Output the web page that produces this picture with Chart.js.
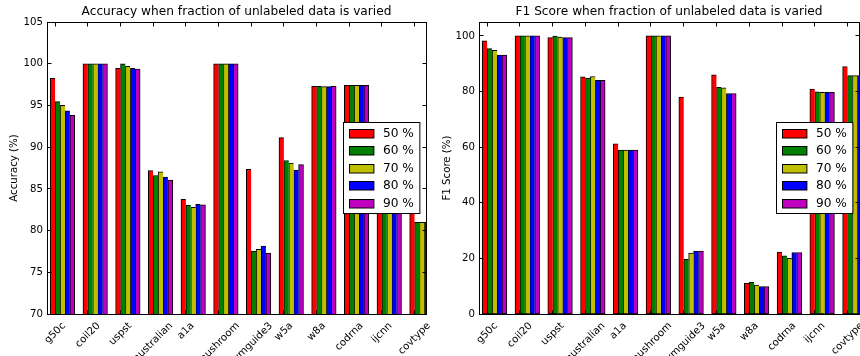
<!DOCTYPE html>
<html>
<head>
<meta charset="utf-8">
<script src="https://cdn.jsdelivr.net/npm/chart.js@4.4.1/dist/chart.umd.min.js"></script>
<style>
    html, body { margin: 0; padding: 0; background: #fff; }
    #wrap { position: relative; width: 860px; height: 356px; overflow: hidden; }
    .panel { position: absolute; top: 0; width: 430px; height: 356px; }
</style>
</head>
<body>
<div id="wrap">
    <div class="panel" style="left:0"><canvas id="accChart" width="430" height="356"></canvas></div>
    <div class="panel" style="left:430px"><canvas id="f1Chart" width="430" height="356"></canvas></div>
</div>
<script>
// Data sets on the x axis
const datasetNames = ['g50c', 'coil20', 'uspst', 'australian', 'a1a', 'mushroom',
    'svmguide3', 'w5a', 'w8a', 'codrna', 'ijcnn', 'covtype'];
const seriesLabels = ['50 %', '60 %', '70 %', '80 %', '90 %'];
const seriesColors = ['#ff0000', '#008000', '#bfbf00', '#0000ff', '#bf00bf'];

// Accuracy (%) per fraction of unlabeled data
const acc50 = [98.25, 100, 99.45, 87.2, 83.75, 100, 87.35, 91.15, 97.3, 97.4, 91.0, 84.5];
const acc60 = [95.45, 100, 100, 86.6, 83.05, 100, 77.55, 88.4, 97.3, 97.4, 90.3, 81.0];
const acc70 = [95.0, 100, 99.7, 87.05, 82.8, 100, 77.75, 88.1, 97.25, 97.4, 90.2, 81.0];
const acc80 = [94.35, 100, 99.45, 86.4, 83.15, 100, 78.15, 87.25, 97.25, 97.4, 90.3, 81.0];
const acc90 = [93.8, 100, 99.35, 86.05, 83.1, 100, 77.3, 87.9, 97.3, 97.4, 90.3, 81.0];

// F1 score (%) per fraction of unlabeled data
const f1_50 = [98.2, 100, 99.4, 85.3, 61.2, 100, 78.0, 86.0, 11.1, 22.3, 80.9, 89.0];
const f1_60 = [95.45, 100, 99.9, 84.8, 58.9, 100, 19.7, 81.5, 11.35, 20.9, 79.9, 85.7];
const f1_70 = [94.85, 100, 99.6, 85.4, 58.9, 100, 21.9, 81.3, 10.4, 20.0, 79.7, 85.7];
const f1_80 = [93.1, 100, 99.4, 84.0, 58.9, 100, 22.6, 79.3, 9.9, 22.1, 79.7, 85.7];
const f1_90 = [93.1, 100, 99.4, 84.0, 58.9, 100, 22.6, 79.3, 9.9, 22.1, 79.7, 85.7];

// Tick labels
const accTicks = [70, 75, 80, 85, 90, 95, 100, 105];
const f1Ticks = [0, 20, 40, 60, 80, 100];

const BAR_W = 0.15;   // bar width in x units, like matplotlib's width=0.15
const FONT = "'DejaVu Sans', sans-serif";
const TICK_SIZE = 10.2;
const BIG_SIZE = 12.2;

function barDatasets(series) {
    return series.map((vals, k) => ({
        label: seriesLabels[k],
        data: vals.map((v, i) => ({ x: i + k * BAR_W + BAR_W / 2, y: v })),
        backgroundColor: seriesColors[k],
        borderColor: '#000',
        borderWidth: k === series.length - 1 ? 1 : { top: 1, left: 1, bottom: 1, right: 0 },
        borderSkipped: false,
        grouped: false,
        barPercentage: 1,
        categoryPercentage: 1
    }));
}

// matplotlib-like frame, inward ticks, rotated labels and legend
const mplPlugin = {
    id: 'mplLook',
    afterDatasetsDraw(chart) {
        const { ctx, chartArea: a, scales: { x, y } } = chart;
        const L = Math.floor(a.left) + 0.5, R = Math.floor(a.right) + 0.5;
        const T = Math.floor(a.top) + 0.5, B = Math.floor(a.bottom) + 0.5;
        ctx.save();
        ctx.strokeStyle = '#000';
        ctx.lineWidth = 1;
        ctx.strokeRect(L, T, R - L, B - T);
        ctx.beginPath();
        y.ticks.forEach(t => {
            const py = Math.floor(y.getPixelForValue(t.value)) + 0.5;
            ctx.moveTo(L, py); ctx.lineTo(L + 4, py);
            ctx.moveTo(R, py); ctx.lineTo(R - 4, py);
        });
        x.ticks.forEach(t => {
            const px = Math.floor(x.getPixelForValue(t.value)) + 0.5;
            ctx.moveTo(px, T); ctx.lineTo(px, T + 4);
            ctx.moveTo(px, B); ctx.lineTo(px, B - 4);
        });
        ctx.stroke();

        // x labels rotated 45 deg, box centered on the tick
        ctx.fillStyle = '#000';
        ctx.font = `${TICK_SIZE}px ${FONT}`;
        ctx.textAlign = 'center';
        ctx.textBaseline = 'middle';
        x.ticks.forEach((t, i) => {
            const label = datasetNames[i];
            const w = ctx.measureText(label).width;
            const half = (w + TICK_SIZE * 1.17) * Math.SQRT1_2 / 2;
            ctx.save();
            ctx.translate(x.getPixelForValue(t.value), a.bottom + 6 + half);
            ctx.rotate(-Math.PI / 4);
            ctx.fillText(label, 0, 0);
            ctx.restore();
        });
        ctx.restore();
    },
    afterDraw(chart) {
        const { ctx, chartArea: a } = chart;
        const sets = chart.data.datasets;
        ctx.save();
        ctx.font = `${BIG_SIZE}px ${FONT}`;
        const tw = Math.max(...sets.map(d => ctx.measureText(d.label).width));
        const handleW = 24.4, handleH = 8.5, rowH = 17.5;
        const padL = 5, gap = 10, padR = 6, padV = 10.5;
        const w = padL + handleW + gap + tw + padR;
        const h = rowH * (sets.length - 1) + 2 * padV;
        const right = a.right - 6.5;
        const left = Math.floor(right - w) + 0.5;
        const top = Math.floor((a.top + a.bottom) / 2 - h / 2) + 0.5;
        ctx.fillStyle = '#fff';
        ctx.fillRect(left, top, w, h);
        ctx.strokeStyle = '#000';
        ctx.lineWidth = 1;
        ctx.strokeRect(left, top, w, h);
        ctx.textAlign = 'left';
        ctx.textBaseline = 'middle';
        sets.forEach((d, k) => {
            const cy = top + padV + k * rowH;
            const hx = Math.round(left + padL) + 0.5;
            const hy = Math.round(cy - handleH / 2) + 0.5;
            ctx.fillStyle = d.backgroundColor;
            ctx.fillRect(hx, hy, handleW, handleH);
            ctx.strokeRect(hx, hy, handleW, handleH);
            ctx.fillStyle = '#000';
            ctx.fillText(d.label, left + padL + handleW + gap, cy + 0.5);
        });
        ctx.restore();
    }
};

function makeChart(canvasId, series, ticks, yMin, yMax, title, yTitle, yWidth, yTitlePad, padRight) {
    return new Chart(document.getElementById(canvasId), {
        type: 'bar',
        data: { datasets: barDatasets(series) },
        options: {
            responsive: false,
            animation: false,
            devicePixelRatio: 1,
            layout: { padding: { left: 0, right: padRight, top: 0, bottom: 0 } },
            scales: {
                x: {
                    type: 'linear',
                    min: -0.1,
                    max: 11.5,
                    offset: false,
                    grid: { display: false, drawTicks: false },
                    border: { display: false },
                    ticks: { display: false },
                    afterBuildTicks: s => { s.ticks = datasetNames.map((_, i) => ({ value: i + BAR_W })); },
                    afterFit: s => { s.height = 42; }
                },
                y: {
                    min: yMin,
                    max: yMax,
                    grid: { display: false, drawTicks: false },
                    border: { display: false },
                    ticks: {
                        padding: 4,
                        color: '#000',
                        font: { family: FONT, size: TICK_SIZE }
                    },
                    afterBuildTicks: s => { s.ticks = ticks.map(v => ({ value: v })); },
                    title: {
                        display: true,
                        text: yTitle,
                        color: '#000',
                        font: { family: FONT, size: TICK_SIZE, lineHeight: 1.2 },
                        padding: { top: yTitlePad, bottom: 0 }
                    },
                    afterFit: s => { s.width = yWidth; }
                }
            },
            plugins: {
                legend: { display: false },
                tooltip: { enabled: false },
                title: {
                    display: true,
                    fullSize: false,
                    text: title,
                    color: '#000',
                    font: { family: FONT, size: BIG_SIZE, weight: 'normal', lineHeight: 1.2 },
                    padding: { top: 5, bottom: 2.36 }
                }
            }
        },
        plugins: [mplPlugin]
    });
}

makeChart('accChart', [acc50, acc60, acc70, acc80, acc90], accTicks, 70, 105,
    'Accuracy when fraction of unlabeled data is varied', 'Accuracy (%)', 47, 8, 4);
makeChart('f1Chart', [f1_50, f1_60, f1_70, f1_80, f1_90], f1Ticks, 0, 105,
    'F1 Score when fraction of unlabeled data is varied', 'F1 Score (%)', 49, 11, 1);
</script>
</body>
</html>
